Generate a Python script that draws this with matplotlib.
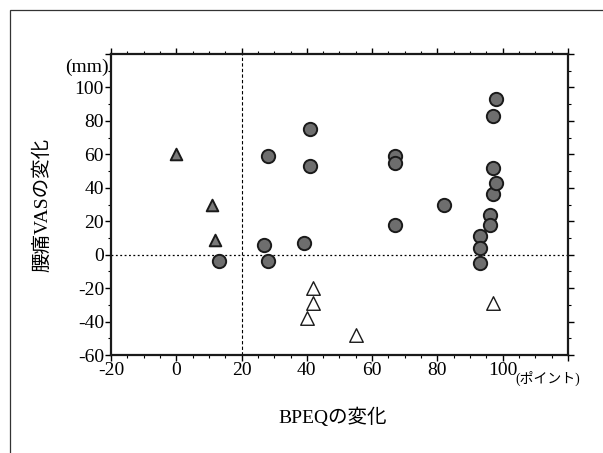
import numpy as np
import matplotlib
matplotlib.use('Agg')
import matplotlib.pyplot as plt
from matplotlib.patches import Rectangle
from matplotlib.ticker import MultipleLocator, FixedLocator

plt.rcParams['font.family'] = ['Liberation Serif', 'Noto Sans CJK JP']

# improved group (circles)
circ_x = [13, 27, 28, 28, 39, 41, 41, 67, 67, 67, 82, 93, 93, 93, 96, 96, 97, 97, 98, 97, 98]
circ_y = [-4, 6, -4, 59, 7, 75, 53, 59, 55, 18, 30, 11, 4, -5, 24, 18, 52, 36, 43, 83, 93]

# filled triangles
tri_x = [0, 11, 12]
tri_y = [60, 30, 9]

# open triangles
open_x = [42, 42, 40, 55, 97]
open_y = [-20, -29, -38, -48, -29]

fig = plt.figure(figsize=(6.03, 4.53), dpi=100)
ax = fig.add_axes([0.184, 0.216, 0.758, 0.665])

# outer frame of the scanned figure
fig.patches.append(Rectangle((10 / 603, -0.1), 1.2, 1.1 - 10 / 453,
                             transform=fig.transFigure, fill=False,
                             edgecolor='#333333', linewidth=0.9, zorder=0))

ax.axvline(20, color='black', linestyle=(0, (3, 2)), linewidth=0.8, zorder=1)
ax.axhline(0, color='black', linestyle=(0, (1.5, 2)), linewidth=0.9, zorder=1)

ax.scatter(circ_x, circ_y, s=92, marker='o', facecolor='#6e6e6e',
           edgecolor='#1a1a1a', linewidth=1.4, zorder=3)
ax.scatter(tri_x, tri_y, s=70, marker='^', facecolor='#7a7a7a',
           edgecolor='#1a1a1a', linewidth=1.4, zorder=3)
ax.scatter(open_x, open_y, s=95, marker='^', facecolor='white',
           edgecolor='#1a1a1a', linewidth=1.0, zorder=3)

ax.set_xlim(-20, 120)
ax.set_ylim(-60, 120)

ax.xaxis.set_major_locator(FixedLocator([-20, 0, 20, 40, 60, 80, 100, 120]))
ax.xaxis.set_minor_locator(MultipleLocator(5))
ax.yaxis.set_major_locator(FixedLocator([-60, -40, -20, 0, 20, 40, 60, 80, 100, 120]))
ax.yaxis.set_minor_locator(MultipleLocator(10))

ax.set_xticklabels(['-20', '0', '20', '40', '60', '80', '100', ''])
ax.set_yticklabels(['-60', '-40', '-20', '0', '20', '40', '60', '80', '100', ''])

ax.tick_params(which='major', direction='out', length=4, width=1.0,
               labelsize=14, pad=1, top=True, right=True)
ax.tick_params(which='minor', direction='out', length=2, width=0.8,
               top=True, right=True)

for sp in ax.spines.values():
    sp.set_linewidth(1.6)
    sp.set_color('#1a1a1a')

ax.set_xlabel('BPEQの変化', fontsize=14)
ax.xaxis.set_label_coords(0.484, -0.176)
ax.set_ylabel('腰痛VASの変化', fontsize=14)
ax.yaxis.set_label_coords(-0.131, 0.5)

ax.text(-0.004, 0.957, '(mm)', transform=ax.transAxes, ha='right', va='center',
        fontsize=14)
ax.text(0.884, -0.076, '(ポイント)', transform=ax.transAxes, ha='left', va='center',
        fontsize=10)

fig.savefig('out.png', dpi=100)
